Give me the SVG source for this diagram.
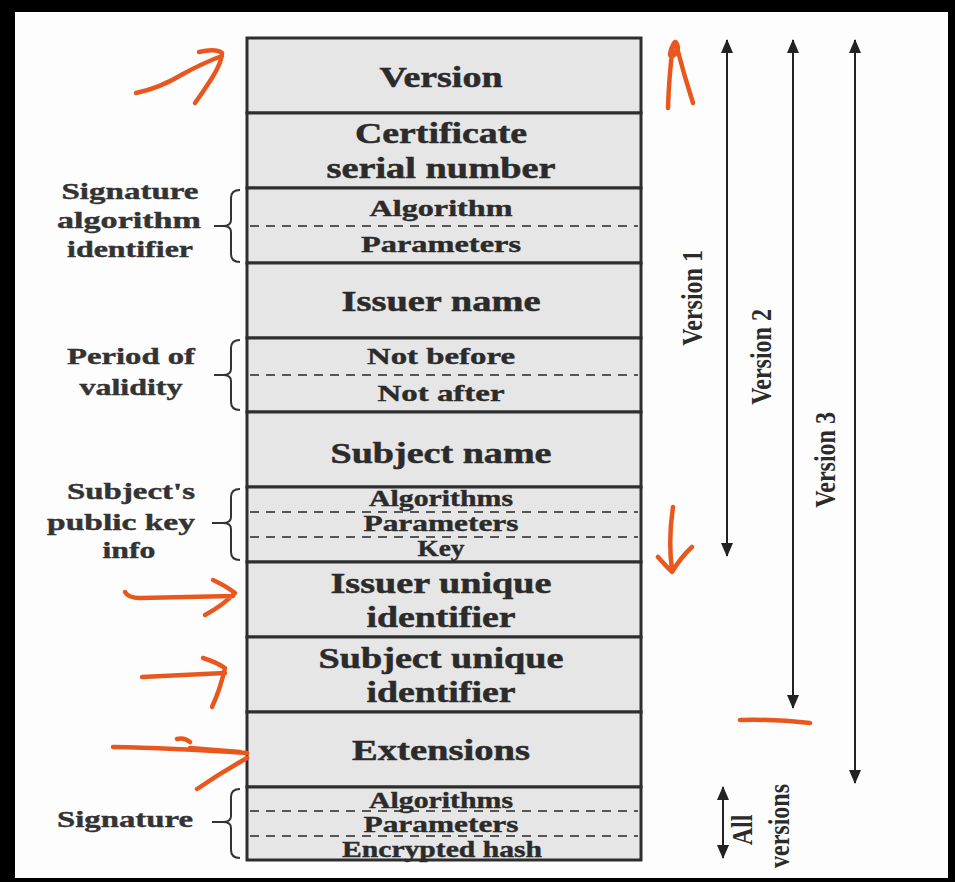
<svg xmlns="http://www.w3.org/2000/svg" width="955" height="882" viewBox="0 0 955 882">
  <defs>
    <style>
      .cell { fill: #e6e6e6; stroke: #2e2e2e; stroke-width: 3; }
      .dash { stroke: #555; stroke-width: 2; stroke-dasharray: 9 7; fill: none; }
      .big { font-family: "Liberation Serif", "Times New Roman", serif; font-weight: bold; font-size: 30px; fill: #2b2b2b; stroke: #2b2b2b; stroke-width: 0.5; text-anchor: middle; }
      .small { font-family: "Liberation Serif", "Times New Roman", serif; font-weight: bold; font-size: 23px; fill: #2b2b2b; stroke: #2b2b2b; stroke-width: 0.4; text-anchor: middle; }
      .lbl { font-family: "Liberation Serif", "Times New Roman", serif; font-weight: bold; font-size: 23px; fill: #333; stroke: #333; stroke-width: 0.4; text-anchor: middle; }
      .vlbl { font-family: "Liberation Serif", "Times New Roman", serif; font-weight: bold; font-size: 24px; fill: #2b2b2b; text-anchor: middle; }
      .brace { fill: none; stroke: #333; stroke-width: 2; }
      .conn { stroke: #222; stroke-width: 2; fill: none; }
      .ink { fill: none; stroke: #e8581e; stroke-width: 4.5; stroke-linecap: round; stroke-linejoin: round; }
    </style>
    <marker id="head" viewBox="0 0 14 12" refX="13" refY="6" markerWidth="14" markerHeight="12" markerUnits="userSpaceOnUse" orient="auto-start-reverse">
      <path d="M0,0 L14,6 L0,12 Z" fill="#222"/>
    </marker>
  </defs>

  <!-- frame -->
  <rect x="0" y="0" width="955" height="882" fill="#000"/>
  <rect x="15" y="12" width="933" height="866" fill="#fdfdfd"/>

  <!-- certificate fields -->
  <g id="version">
    <rect class="cell" x="247" y="38" width="394" height="75"/>
    <text class="big" x="441" y="87" textLength="123" lengthAdjust="spacingAndGlyphs">Version</text>
  </g>
  <g id="serial-number">
    <rect class="cell" x="247" y="113" width="394" height="75"/>
    <text class="big" x="441" y="143" textLength="172" lengthAdjust="spacingAndGlyphs">Certificate</text>
    <text class="big" x="441" y="178" textLength="229" lengthAdjust="spacingAndGlyphs">serial number</text>
  </g>
  <g id="signature-algorithm">
    <rect class="cell" x="247" y="188" width="394" height="75"/>
    <line class="dash" x1="250" y1="226" x2="638" y2="226"/>
    <text class="small" x="441" y="216" textLength="143" lengthAdjust="spacingAndGlyphs">Algorithm</text>
    <text class="small" x="441" y="252" textLength="160" lengthAdjust="spacingAndGlyphs">Parameters</text>
  </g>
  <g id="issuer-name">
    <rect class="cell" x="247" y="263" width="394" height="75"/>
    <text class="big" x="441" y="311" textLength="199" lengthAdjust="spacingAndGlyphs">Issuer name</text>
  </g>
  <g id="validity">
    <rect class="cell" x="247" y="338" width="394" height="74"/>
    <line class="dash" x1="250" y1="375" x2="638" y2="375"/>
    <text class="small" x="441" y="364" textLength="148" lengthAdjust="spacingAndGlyphs">Not before</text>
    <text class="small" x="441" y="401" textLength="127" lengthAdjust="spacingAndGlyphs">Not after</text>
  </g>
  <g id="subject-name">
    <rect class="cell" x="247" y="412" width="394" height="75"/>
    <text class="big" x="441" y="463" textLength="221" lengthAdjust="spacingAndGlyphs">Subject name</text>
  </g>
  <g id="subject-public-key">
    <rect class="cell" x="247" y="487" width="394" height="75"/>
    <line class="dash" x1="250" y1="512" x2="638" y2="512"/>
    <line class="dash" x1="250" y1="537" x2="638" y2="537"/>
    <text class="small" x="441" y="506" textLength="144" lengthAdjust="spacingAndGlyphs">Algorithms</text>
    <text class="small" x="441" y="531" textLength="155" lengthAdjust="spacingAndGlyphs">Parameters</text>
    <text class="small" x="441" y="556" textLength="47" lengthAdjust="spacingAndGlyphs">Key</text>
  </g>
  <g id="issuer-unique-id">
    <rect class="cell" x="247" y="562" width="394" height="75"/>
    <text class="big" x="441" y="593" textLength="221" lengthAdjust="spacingAndGlyphs">Issuer unique</text>
    <text class="big" x="441" y="627" textLength="149" lengthAdjust="spacingAndGlyphs">identifier</text>
  </g>
  <g id="subject-unique-id">
    <rect class="cell" x="247" y="637" width="394" height="75"/>
    <text class="big" x="441" y="668" textLength="245" lengthAdjust="spacingAndGlyphs">Subject unique</text>
    <text class="big" x="441" y="702" textLength="149" lengthAdjust="spacingAndGlyphs">identifier</text>
  </g>
  <g id="extensions">
    <rect class="cell" x="247" y="712" width="394" height="75"/>
    <text class="big" x="441" y="760" textLength="178" lengthAdjust="spacingAndGlyphs">Extensions</text>
  </g>
  <g id="signature">
    <rect class="cell" x="247" y="787" width="394" height="73"/>
    <line class="dash" x1="250" y1="811" x2="638" y2="811"/>
    <line class="dash" x1="250" y1="836" x2="638" y2="836"/>
    <text class="small" x="441" y="808" textLength="144" lengthAdjust="spacingAndGlyphs">Algorithms</text>
    <text class="small" x="441" y="832" textLength="155" lengthAdjust="spacingAndGlyphs">Parameters</text>
    <text class="small" x="442" y="857" textLength="200" lengthAdjust="spacingAndGlyphs">Encrypted hash</text>
  </g>

  <!-- group labels with braces -->
  <g id="label-signature-algorithm">
    <path class="brace" d="M240,190 Q231,190 231,198 L231,220 Q231,226 223,226 Q231,226 231,232 L231,254 Q231,262 240,262 M214,226 L223,226"/>
    <text class="lbl" x="130" y="199" textLength="137" lengthAdjust="spacingAndGlyphs">Signature</text>
    <text class="lbl" x="129" y="228" textLength="144" lengthAdjust="spacingAndGlyphs">algorithm</text>
    <text class="lbl" x="130" y="257" textLength="126" lengthAdjust="spacingAndGlyphs">identifier</text>
  </g>
  <g id="label-validity">
    <path class="brace" d="M240,340 Q231,340 231,348 L231,369 Q231,375 223,375 Q231,375 231,381 L231,402 Q231,410 240,410 M214,375 L223,375"/>
    <text class="lbl" x="131" y="364" textLength="128" lengthAdjust="spacingAndGlyphs">Period of</text>
    <text class="lbl" x="131" y="395" textLength="103" lengthAdjust="spacingAndGlyphs">validity</text>
  </g>
  <g id="label-public-key">
    <path class="brace" d="M240,489 Q231,489 231,497 L231,517 Q231,523 223,523 Q231,523 231,529 L231,552 Q231,560 240,560 M212,523 L223,523"/>
    <text class="lbl" x="131" y="499" textLength="128" lengthAdjust="spacingAndGlyphs">Subject's</text>
    <text class="lbl" x="121" y="530" textLength="148" lengthAdjust="spacingAndGlyphs">public key</text>
    <text class="lbl" x="129" y="558" textLength="53" lengthAdjust="spacingAndGlyphs">info</text>
  </g>
  <g id="label-signature">
    <path class="brace" d="M240,789 Q231,789 231,797 L231,816 Q231,822 223,822 Q231,822 231,828 L231,850 Q231,858 240,858 M212,822 L223,822"/>
    <text class="lbl" x="125" y="827" textLength="136" lengthAdjust="spacingAndGlyphs">Signature</text>
  </g>

  <!-- version span connectors -->
  <g id="connectors">
    <line class="conn" x1="727" y1="556" x2="727" y2="40" marker-end="url(#head)"/>
    <line class="conn" x1="727" y1="40" x2="727" y2="556" marker-end="url(#head)"/>
    <line class="conn" x1="793" y1="708" x2="793" y2="40" marker-end="url(#head)"/>
    <line class="conn" x1="793" y1="40" x2="793" y2="708" marker-end="url(#head)"/>
    <line class="conn" x1="855" y1="783" x2="855" y2="40" marker-end="url(#head)"/>
    <line class="conn" x1="855" y1="40" x2="855" y2="783" marker-end="url(#head)"/>
    <line class="conn" x1="723" y1="858" x2="723" y2="787" marker-end="url(#head)"/>
    <line class="conn" x1="723" y1="787" x2="723" y2="858" marker-end="url(#head)"/>
  </g>
  <g id="version-labels">
    <text class="vlbl" transform="translate(702,298) scale(1.25,1) rotate(-90)">Version 1</text>
    <text class="vlbl" transform="translate(771,357) scale(1.25,1) rotate(-90)">Version 2</text>
    <text class="vlbl" transform="translate(835,460) scale(1.25,1) rotate(-90)">Version 3</text>
    <text class="vlbl" transform="translate(752,830) scale(1.25,1) rotate(-90)">All</text>
    <text class="vlbl" transform="translate(789,826) scale(1.25,1) rotate(-90)">versions</text>
  </g>

  <!-- hand-drawn highlights -->
  <g id="highlights">
    <path class="ink" d="M136,93 Q160,88 183,74 Q205,62 222,56 M199,52 Q216,48 222,53 Q222,62 212,78 Q203,92 195,103"/>
    <path class="ink" d="M668,108 Q669,75 673,45 Q676,38 678,48 Q675,58 670,55 Q671,45 676,44 Q684,75 693,103"/>
    <path class="ink" d="M673,507 Q668,540 672,570 M658,557 Q666,566 672,572 Q681,557 692,547"/>
    <path class="ink" d="M125,592 Q128,598 140,598 L233,596 M213,580 Q226,586 235,593 Q222,606 205,615"/>
    <path class="ink" d="M142,677 L225,673 M203,658 Q216,662 225,668 Q220,690 212,707"/>
    <path class="ink" d="M113,747 Q170,748 247,753 M177,739 Q184,737 190,742 M190,748 L240,752 M247,758 Q222,772 197,789"/>
    <path class="ink" d="M740,720 Q775,719 810,723" stroke-width="7"/>
  </g>
</svg>
